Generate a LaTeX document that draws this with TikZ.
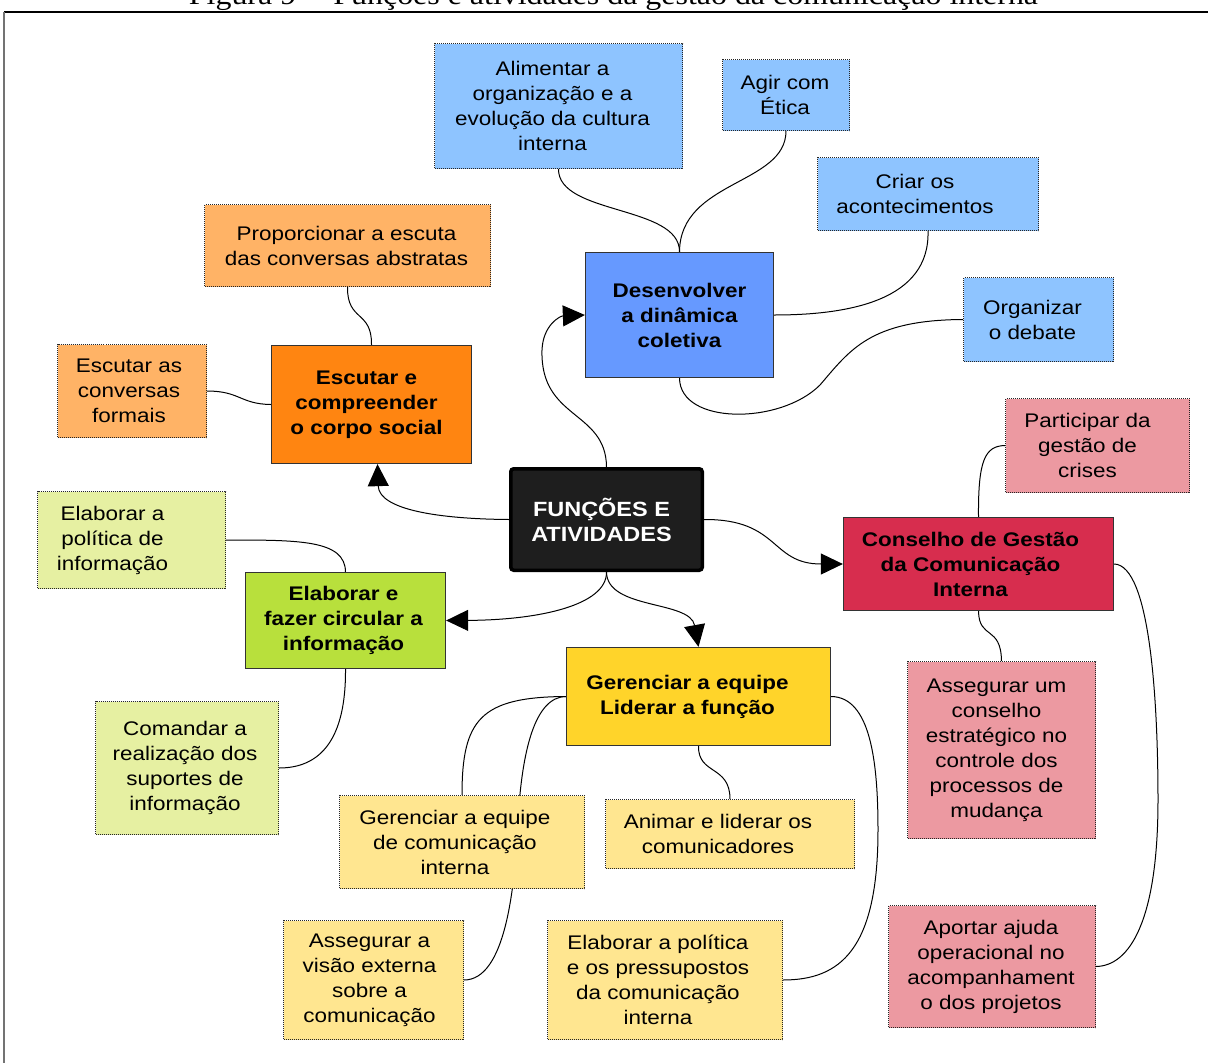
\documentclass[tikz,border=0pt]{standalone}
\usepackage{fontspec}
\setmainfont{Liberation Sans}[FakeStretch=1.14]
\newfontfamily\capfont{Liberation Serif}[FakeStretch=1.14]
\usetikzlibrary{arrows.meta}
\pgfdeclarelayer{background}
\pgfsetlayers{background,main}

\definecolor{blueA}{HTML}{6699FF}
\definecolor{blueB}{HTML}{8EC4FF}
\definecolor{orangeA}{HTML}{FF8511}
\definecolor{orangeB}{HTML}{FFB366}
\definecolor{greenA}{HTML}{B8E03C}
\definecolor{greenB}{HTML}{E6F0A2}
\definecolor{yellowA}{HTML}{FFD42A}
\definecolor{yellowB}{HTML}{FFE690}
\definecolor{redA}{HTML}{D72D4E}
\definecolor{redB}{HTML}{EC99A1}
\definecolor{coreFill}{HTML}{1E1E1E}
\definecolor{edge}{HTML}{333333}

\begin{document}
\begin{tikzpicture}[x=1pt,y=-1pt,
  txt/.style={font=\fontsize{19.7}{25}\selectfont, align=center, inner sep=0pt},
  btxt/.style={txt, font=\fontsize{19.7}{25}\selectfont\bfseries},
  sub/.style={rectangle, inner sep=0pt, draw=black!85, line width=0.9pt,
              dash pattern=on 1pt off 1pt},
  mainbox/.style={rectangle, inner sep=0pt, draw=edge, line width=1.3pt},
  corebox/.style={rectangle, inner sep=0pt, draw=black, fill=coreFill,
              line width=3.5pt, rounded corners=3pt},
  link/.style={line width=1pt, black},
  arr/.style={link, -{Triangle[length=22pt,width=21pt]}}]

\useasboundingbox (0,0) rectangle (1208,1063);

% caption above the frame
\node[anchor=base, inner sep=0pt, font=\capfont\fontsize{28}{30}\selectfont] (cap) at (613.5,4.5)
  {Figura 9 -- Funções e atividades da gestão da comunicação interna};

% frame
\draw[black, line width=1.4pt] (4,12) -- (1208,12);
\draw[black!55, line width=1.6pt] (4,12) -- (4,1063);

% central node
\node[corebox, minimum width=191.5pt, minimum height=101.5pt,
  label={[btxt, text=white, font=\fontsize{20.6}{25}\selectfont\bfseries, xshift=-5pt]center:{FUNÇÕES E\\ATIVIDADES}}]
  (ctr) at (606.5,519.5) {};

% main branches
\node[mainbox, fill=blueA, minimum width=188pt, minimum height=125pt,
  label={[btxt]center:{Desenvolver\\a dinâmica\\coletiva}}] (dev) at (679.5,315) {};
\node[mainbox, fill=orangeA, minimum width=200pt, minimum height=118pt,
  label={[btxt, xshift=-5pt]center:{Escutar e\\compreender\\o corpo social}}] (esc) at (371.5,404.5) {};
\node[mainbox, fill=greenA, minimum width=200pt, minimum height=96pt,
  label={[btxt, xshift=-2pt]center:{Elaborar e\\fazer circular a\\informação}}] (elab) at (345.5,620.5) {};
\node[mainbox, fill=yellowA, minimum width=264pt, minimum height=98pt,
  label={[btxt, xshift=-11pt]center:{Gerenciar a equipe\\Liderar a função}}] (ger) at (698.5,696.5) {};
\node[mainbox, fill=redA, minimum width=270pt, minimum height=93pt,
  label={[btxt, xshift=-8pt]center:{Conselho de Gestão\\da Comunicação\\Interna}}] (cons) at (978.5,564) {};

% activities: Desenvolver
\node[sub, fill=blueB, minimum width=248pt, minimum height=125pt,
  label={[txt, xshift=-6pt]center:{Alimentar a\\organização e a\\evolução da cultura\\interna}}] (ali) at (558.5,106) {};
\node[sub, fill=blueB, minimum width=127pt, minimum height=71pt,
  label={[txt, xshift=-1pt]center:{Agir com\\Ética}}] (agir) at (786,95) {};
\node[sub, fill=blueB, minimum width=221pt, minimum height=73pt,
  label={[txt, xshift=-13pt]center:{Criar os\\acontecimentos}}] (criar) at (928,194) {};
\node[sub, fill=blueB, minimum width=150pt, minimum height=84pt,
  label={[txt, xshift=-6pt]center:{Organizar\\o debate}}] (org) at (1038.5,319.5) {};

% activities: Escutar
\node[sub, fill=orangeB, minimum width=286pt, minimum height=82pt,
  label={[txt, xshift=-1pt]center:{Proporcionar a escuta\\das conversas abstratas}}] (prop) at (347.5,245.5) {};
\node[sub, fill=orangeB, minimum width=149pt, minimum height=93pt,
  label={[txt, xshift=-3pt]center:{Escutar as\\conversas\\formais}}] (esc2) at (132,391) {};

% activities: Elaborar
\node[sub, fill=greenB, minimum width=188pt, minimum height=97pt,
  label={[txt, xshift=-19pt]center:{Elaborar a\\política de\\informação}}] (pol) at (131.5,540) {};
\node[sub, fill=greenB, minimum width=183pt, minimum height=133pt,
  label={[txt, xshift=-2pt]center:{Comandar a\\realização dos\\suportes de\\informação}}] (com) at (187,768) {};

% activities: Gerenciar
\node[sub, fill=yellowB, minimum width=245pt, minimum height=93pt,
  label={[txt, xshift=-7pt]center:{Gerenciar a equipe\\de comunicação\\interna}}] (gereq) at (462,842) {};
\node[sub, fill=yellowB, minimum width=249pt, minimum height=69pt,
  label={[txt, xshift=-12pt]center:{Animar e liderar os\\comunicadores}}] (anim) at (730,834) {};
\node[sub, fill=yellowB, minimum width=180pt, minimum height=119pt,
  label={[txt, xshift=-4pt]center:{Assegurar a\\visão externa\\sobre a\\comunicação}}] (visao) at (373.5,980) {};
\node[sub, fill=yellowB, minimum width=235pt, minimum height=119pt,
  label={[txt, xshift=-7pt]center:{Elaborar a política\\e os pressupostos\\da comunicação\\interna}}] (polit) at (665,980) {};

% activities: Conselho
\node[sub, fill=redB, minimum width=184pt, minimum height=94pt,
  label={[txt, xshift=-10pt]center:{Participar da\\gestão de\\crises}}] (part) at (1097.5,445.5) {};
\node[sub, fill=redB, minimum width=188pt, minimum height=177pt,
  label={[txt, xshift=-5pt]center:{Assegurar um\\conselho\\estratégico no\\controle dos\\processos de\\mudança}}] (ass) at (1001.5,750) {};
\node[sub, fill=redB, minimum width=207pt, minimum height=122pt,
  label={[txt, xshift=-1pt]center:{Aportar ajuda\\operacional no\\acompanhament\\o dos projetos}}] (aport) at (992,966.5) {};

\begin{pgfonlayer}{background}
% centre to main branches
\draw[arr] (ctr.north) .. controls (606,410) and (540,420) .. (542,350)
  .. controls (543,325) and (560,316) .. (dev.west);
\draw[arr] (ctr.west) .. controls (440,519) and (379,510) .. ([xshift=6pt]esc.south);
\draw[arr] (ctr.south) .. controls (607,605) and (540,620) .. (elab.east);
\draw[arr] (ctr.south) .. controls (607,610) and (690,600) .. (ger.north);
\draw[arr] (ctr.east) .. controls (780,519) and (770,564) .. (cons.west);

% Desenvolver
\draw[link] (ali.south) .. controls (558,215) and (680,205) .. (dev.north);
\draw[link] (agir.south) .. controls (786,185) and (680,180) .. (dev.north);
\draw[link] (criar.south) .. controls (930,300) and (850,315) .. (dev.east);
\draw[link] (dev.south) .. controls (680,425) and (780,425) .. (820,385)
  .. controls (850,350) and (870,320) .. (org.west);

% Escutar
\draw[link] (prop.south) .. controls (347,322) and (372,310) .. (esc.north);
\draw[link] (esc.west) .. controls (240,404) and (240,391) .. (esc2.east);

% Elaborar
\draw[link] (pol.east) .. controls (300,540) and (345,540) .. (elab.north);
\draw[link] (elab.south) .. controls (346,740) and (320,768) .. (com.east);

% Gerenciar
\draw[link] (ger.west) .. controls (480,697) and (462,720) .. (gereq.north);
\draw[link] (ger.west) .. controls (535,697) and (522,750) .. (518,820)
  .. controls (515,890) and (505,980) .. (visao.east);
\draw[link] (ger.south) .. controls (698,775) and (730,765) .. (anim.north);
\draw[link] (ger.east) .. controls (870,697) and (878,760) .. (878,830)
  .. controls (878,950) and (840,980) .. (polit.east);

% Conselho
\draw[link] (cons.north) .. controls (978,460) and (985,446) .. (part.west);
\draw[link] (cons.south) .. controls (979,640) and (1001,625) .. (ass.north);
\draw[link] (cons.east) .. controls (1150,565) and (1158,700) .. (1158,800)
  .. controls (1158,920) and (1130,966) .. (aport.east);
\end{pgfonlayer}
\end{tikzpicture}
\end{document}
